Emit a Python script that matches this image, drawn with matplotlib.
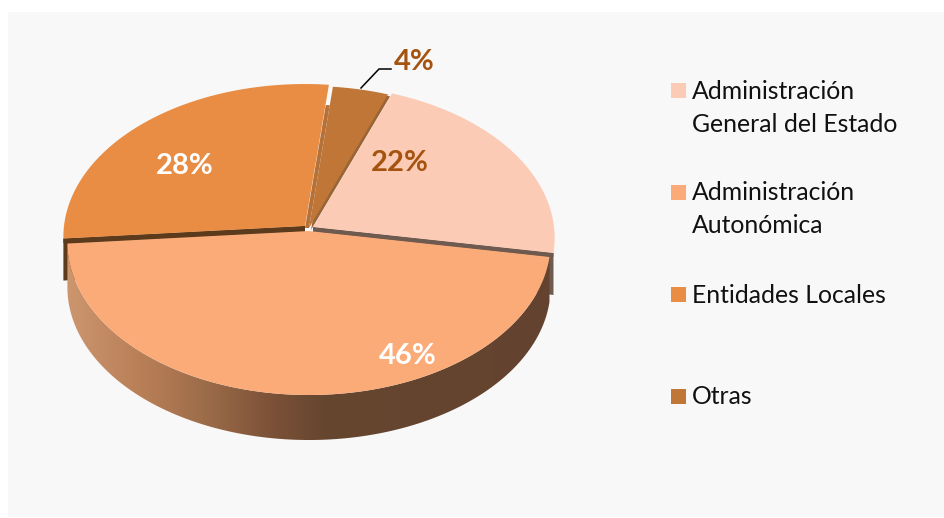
import matplotlib
matplotlib.use("Agg")
import matplotlib.pyplot as plt
import numpy as np
from matplotlib.colors import LinearSegmentedColormap
from matplotlib.patches import Polygon, Rectangle

plt.rcParams['font.family'] = ['Lato', 'DejaVu Sans']

# datos
categorias = [["Administración", "General del Estado"],
              ["Administración", "Autonómica"],
              ["Entidades Locales"],
              ["Otras"]]
porcentajes = [22, 46, 28, 4]
etiquetas = ["22%", "46%", "28%", "4%"]

colores = ['#FCCBB6', '#FBAB78', '#E98D44', '#C07636']
col_texto = ['#A5540F', 'white', 'white', '#A5540F']
pos_texto = [(400, 163), (408, 356), (185, 166), (414, 62)]
# centro de cada porcion, algo separadas entre si
centros = [(313, 227), (309, 231), (305, 226), (309, 228)]

RX, RY, K = 241, 152.2, 0.072
PROF = 45
INICIO = 20.5


def arco(c, a0, a1, n=200):
    t = np.radians(np.linspace(a0, a1, n))
    u, v = np.sin(t), np.cos(t)
    return c[0] + RX * u / (1 + K * v), c[1] - RY * v / (1 + K * v)


def porcion(c, a0, a1):
    x, y = arco(c, a0, a1)
    return np.r_[c[0], x], np.r_[c[1], y]


def banda(c, a, d):
    # pared plana a lo largo de un radio
    x, y = arco(c, a, a, 1)
    return [c[0], x[0], x[0], c[0]], [c[1], y[0], y[0] + d, c[1] + d]


fig = plt.figure(figsize=(9.45, 5.18), dpi=100, facecolor='white')
ax = fig.add_axes([0, 0, 1, 1])
ax.axis('off')
ax.add_patch(Rectangle((8, 12), 937, 505, fc='#F8F8F8', ec='none', zorder=0))

bordes = INICIO + np.r_[0, np.cumsum(porcentajes)] * 3.6
ang = [(bordes[i], bordes[i + 1]) for i in range(4)]

# paredes laterales de 22% y 28% (casi tapadas)
x, y = banda(centros[0], ang[0][1], 42)
ax.fill(x, y, color='#6F5A50', lw=0, zorder=1)
x, y = banda(centros[2], ang[2][0], 42)
ax.fill(x, y, color='#5C3A1C', lw=0, zorder=1)

# pared de la porcion grande con degradado
xa, ya = arco(centros[1], *ang[1])
pared = Polygon(np.c_[np.r_[xa, xa[::-1]], np.r_[ya, ya[::-1] + PROF]],
                closed=True, fc='none', ec='none', transform=ax.transData)
ax.add_patch(pared)
cmap = LinearSegmentedColormap.from_list('pared', [
    (0.0, '#CC966E'), (0.16, '#B87F57'), (0.30, '#9A6A48'),
    (0.42, '#7C5238'), (0.53, '#67462F'), (1.0, '#634330')])
im = ax.imshow(np.linspace(0, 1, 256).reshape(1, -1), cmap=cmap, aspect='auto',
               extent=(65, 552, 445, 235), zorder=2)
im.set_clip_path(pared)

# cara superior
x, y = porcion(centros[1], *ang[1])
ax.fill(x, y, color=colores[1], lw=0, zorder=3)

x, y = banda(centros[0], ang[0][1], 4)
ax.fill(x, y, color='#6F5A50', lw=0, zorder=4)
x, y = banda(centros[2], ang[2][0], 4.5)
ax.fill(x, y, color='#5C3A1C', lw=0, zorder=4)
x, y = porcion(centros[3], *ang[3])
ax.fill(x + 2, y + 2, color='#9A6535', lw=0, zorder=4)
# borde izquierdo del 4%, tapa el hueco salvo arriba
xb, yb = arco(centros[3], ang[3][0], ang[3][0], 1)
xm = centros[3][0] + 0.87 * (xb[0] - centros[3][0])
ym = centros[3][1] + 0.87 * (yb[0] - centros[3][1])
ax.fill([centros[3][0] - 4, xm - 4, xm, centros[3][0]],
        [centros[3][1], ym, ym, centros[3][1]], color='#B5713A', lw=0, zorder=4)

for i in [0, 2, 3]:
    x, y = porcion(centros[i], *ang[i])
    ax.fill(x, y, color=colores[i], lw=0, zorder=5)

for et, c, p in zip(etiquetas, col_texto, pos_texto):
    ax.text(p[0], p[1], et, color=c, fontsize=21, fontweight='bold',
            ha='center', va='center', zorder=7)

# linea guia del 4%
ax.plot([361, 379, 391], [88, 69, 69], color='black', lw=1.1, zorder=6)

# leyenda
filas = [(90, 99), (192, 200), (294, 303), (396, 404)]
for i, cat in enumerate(categorias):
    yc, base = filas[i]
    ax.add_patch(Rectangle((671, yc - 7.5), 15, 15, fc=colores[i], ec='none', zorder=6))
    for j, linea in enumerate(cat):
        ax.text(692, base + 33 * j, linea, color='#111111', fontsize=17.8,
                ha='left', va='baseline', zorder=6)

ax.set_xlim(0, 945)
ax.set_ylim(518, 0)
fig.savefig('out.png', dpi=100, facecolor='white')
